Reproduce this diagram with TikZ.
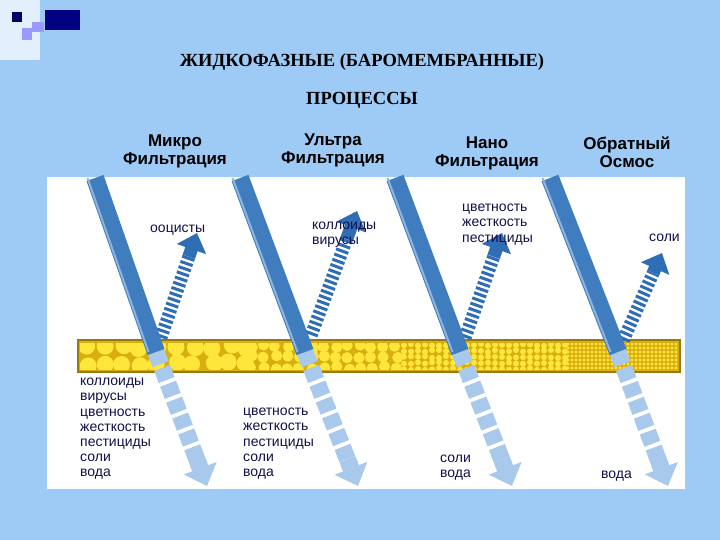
\documentclass[tikz,border=0pt]{standalone}
\usepackage{fontspec}
\setmainfont{Liberation Serif}
\newfontfamily\lab{Liberation Sans}
\usetikzlibrary{arrows.meta,calc}
\definecolor{bg}{HTML}{9DCBF5}
\definecolor{inbar}{HTML}{3F7DBF}
\definecolor{inedge}{HTML}{8DB4DE}
\definecolor{outbar}{HTML}{A8C8EC}
\definecolor{outedge}{HTML}{5C8FC8}
\definecolor{refl}{HTML}{2F6DB5}
\definecolor{memb}{HTML}{D9AE10}
\definecolor{bub}{HTML}{FFE63A}
\definecolor{txt}{HTML}{10104A}
\tikzset{
 head/.style={font=\lab\bfseries\fontsize{17}{18}\selectfont, align=center, text=black},
 item/.style={font=\lab\fontsize{14}{15.2}\selectfont, align=left, text=txt, inner sep=0},
 titl/.style={font=\bfseries\fontsize{18.5}{20}\selectfont, text=black},
 inarrow/.style={line width=18pt, inbar},
 outarrow/.style={line width=17pt, outbar, dash pattern=on 13pt off 4pt},
 outtip/.style={-{Triangle[width=34pt,length=19pt]}, line width=17pt, outbar},
 reflarrow/.style={line width=13pt, refl, dash pattern=on 3pt off 2.5pt},
 refltip/.style={-{Triangle[width=30pt,length=17pt]}, line width=13pt, refl},
}
\begin{document}
\begin{tikzpicture}[x=1pt,y=-1pt]
\fill[bg] (0,0) rectangle (720,540);
\useasboundingbox (0,0) rectangle (720,540);
% corner squares
\fill[white!70!bg] (0,0) rectangle (40,60);
\fill[blue!40!black] (12,12) rectangle (22,22);
\fill[blue!50!black] (45,10) rectangle (80,30);
\fill[blue!40!white] (22,28) rectangle (32,40);
\fill[blue!40!white] (32,22) rectangle (44,32);
% panel
\fill[white] (47,177) rectangle (685,489);
\node[titl] (t1) at (362,62) {ЖИДКОФАЗНЫЕ (БАРОМЕМБРАННЫЕ)};
\node[titl] (t2) at (362,100) {ПРОЦЕССЫ};
\node[head] (h1) at (175,151) {Микро\\Фильтрация};
\node[head] (h2) at (333,150) {Ультра\\Фильтрация};
\node[head] (h3) at (487,153) {Нано\\Фильтрация};
\node[head] (h4) at (627,152) {Обратный\\Осмос};
% membrane
\fill[memb] (78,340) rectangle (680,372);
\begin{scope}
\clip (80,343) rectangle (678,369);
\pgfmathsetseed{7}
\foreach \x in {86,104,...,250} \foreach \y in {347,364} {
  \fill[bub] (\x+rand*3,\y+rand*2) circle (8.5);}
\foreach \x in {252,264,...,400} \foreach \y in {346,357,368} {
  \fill[bub] (\x+rand*2,\y+rand*1.5) circle (5.6);}
\foreach \x in {404,411,...,565} \foreach \y in {345,351,...,369} {
  \fill[bub] (\x,\y+rand) circle (3);}
\foreach \x in {568,572,...,678} \foreach \y in {344,348,...,370} {
  \fill[bub] (\x,\y) circle (1.6);}
\end{scope}
\draw[memb!70!black, line width=1.5pt] (78,340) rectangle (680,372);
% arrows
\foreach \i/\sx/\mx/\ex/\rx/\ry in {1/95/156/207/197/233, 2/240/305/358/357/211, 3/395/460/512/502/233, 4/550/618/668/662/253} {
  \coordinate (s\i) at (\sx,178);
  \coordinate (m\i) at (\mx,352);
  \coordinate (e\i) at (\ex,486);
  \coordinate (r\i) at (\rx,\ry);
  \coordinate (rb\i) at ($(m\i)!0.12!(r\i)$);
  \coordinate (rt\i) at ($(m\i)!0.8!(r\i)$);
  \coordinate (et\i) at ($(m\i)!0.85!(e\i)$);
  \draw[reflarrow] (rb\i) -- (rt\i);
  \draw[refltip] (rt\i) -- (r\i);
  \draw[outarrow] (m\i) -- (et\i);
  \draw[outtip] ($(m\i)!0.8!(e\i)$) -- (e\i);
  \draw[inarrow] (s\i) -- (m\i);
  \draw[inedge, line width=2pt] ($(s\i)+(-7.5,0)$) -- ($(m\i)+(-7.5,0)$);
}
% labels
\node[item, anchor=north west] (l1) at (150,225) {ооцисты};
\node[item, anchor=north west] (l2) at (312,222) {коллоиды\\вирусы};
\node[item, anchor=north west] (l3) at (462,204) {цветность\\жесткость\\пестициды};
\node[item, anchor=north east] (l4) at (680,234) {соли};
\node[item, anchor=north west] (b1) at (80,378) {коллоиды\\вирусы\\цветность\\жесткость\\пестициды\\соли\\вода};
\node[item, anchor=north west] (b2) at (243,408) {цветность\\жесткость\\пестициды\\соли\\вода};
\node[item, anchor=north west] (b3) at (440,455) {соли\\вода};
\node[item, anchor=north west] (b4) at (601,471) {вода};
\end{tikzpicture}
\end{document}
